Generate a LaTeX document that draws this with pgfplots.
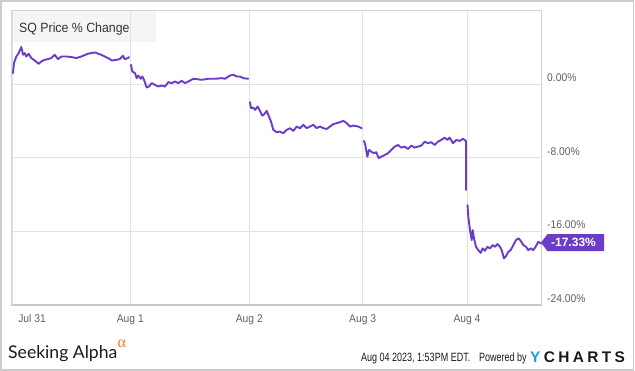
\documentclass[border=0pt]{standalone}
\usepackage{pgfplots}
\pgfplotsset{compat=1.18}
\usepackage{fontspec}
\setmainfont{Liberation Sans}[FakeStretch=0.92]
\newfontfamily\footfont{Liberation Sans}[FakeStretch=0.75]
\newfontfamily\tagfont{Liberation Sans}
\newfontfamily\safont{Lato}
\newfontfamily\alphafont{Liberation Serif}
\definecolor{sqline}{HTML}{6A3CC8}
\definecolor{gridc}{HTML}{E2E2E2}
\definecolor{framec}{HTML}{D4D4D4}
\definecolor{bottomc}{HTML}{C8C8C8}
\definecolor{tickc}{HTML}{606060}
\definecolor{titlebg}{HTML}{F5F5F5}
\definecolor{titlec}{HTML}{333333}
\definecolor{bordc}{HTML}{CCCCCC}
\definecolor{saorange}{HTML}{F57C1F}
\definecolor{ycblue}{HTML}{1E9BE0}
\definecolor{ycdark}{HTML}{1A1A1A}
\pgfplotsset{sq/.style={draw=sqline, line width=1.9bp, line join=round, line cap=round, mark=none}}
\begin{document}
\begin{tikzpicture}
\useasboundingbox (0,0) rectangle (635bp,371bp);
\draw[bordc, line width=1.5bp] (1bp,1bp) rectangle (633.5bp,370bp);
\fill[titlebg] (11bp,329bp) rectangle (156bp,360.5bp);
\node[anchor=base west, inner sep=0pt, text=titlec] at (19bp,338.7bp) {\fontsize{13.4bp}{15bp}\selectfont SQ Price \% Change};
\begin{axis}[
  at={(11bp,66bp)}, anchor=south west,
  scale only axis, width=530bp, height=294.5bp,
  xmin=11, xmax=541, ymin=-24, ymax=8,
  xtick={130.3,249.3,362.7,467},
  xticklabels={Aug 1,Aug 2,Aug 3,Aug 4},
  extra x ticks={32}, extra x tick labels={Jul 31},
  extra x tick style={grid=none},
  ytick={-24,-16,-8,0},
  yticklabels={-24.00\%,-16.00\%,-8.00\%,0.00\%},
  yticklabel pos=right,
  grid=major,
  major grid style={color=gridc, line width=0.8bp},
  major tick length=0pt,
  tick style={draw=none},
  axis line style={color=framec, line width=1bp},
  xticklabel style={anchor=base, inner sep=0pt, yshift=-17bp, font=\fontsize{11.2bp}{13bp}\selectfont, text=tickc},
  yticklabel style={anchor=base west, inner sep=0pt, xshift=6bp, yshift=2.6bp, font=\fontsize{11.2bp}{13bp}\selectfont, text=tickc},
  clip=false,
]
\draw[bottomc, line width=2bp] (rel axis cs:0,0) -- (rel axis cs:1,0);
\draw[gridc, line width=0.8bp] (axis cs:12.5,-24) -- (axis cs:12.5,8);
\addplot[sq] coordinates {(13,1.20) (14,2.29) (16.3,3.00) (18.7,3.37) (21.3,4.03) (23,3.19) (24.7,3.37) (26.3,3.00) (28.7,3.30) (31.3,2.83) (34.7,2.57) (38.7,2.21) (41.3,2.46) (44.7,2.64) (48,2.72) (51.3,2.83) (54.7,3.19) (58,2.72) (61.3,3.00) (66.3,3.00) (71.3,2.94) (76.3,2.83) (81.3,3.00) (88,3.30) (91.3,3.37) (95.3,3.44) (98,3.30) (101.3,3.19) (104.7,3.00) (108,2.83) (112,2.57) (116.3,2.64) (119.7,2.72) (123,3.08) (124.7,2.72) (128,2.83) (129,2.94)};
\addplot[sq] coordinates {(131,2.10) (132.3,1.37) (135,1.20) (136.7,0.65) (138.3,0.94) (140.7,0.58) (142.3,0.83) (144,0.47) (146.7,-0.37) (149,-0.26) (151.7,0.11) (155,-0.08) (158.3,-0.26) (161.7,-0.15) (165,-0.26) (168.3,0.22) (171.7,0.11) (175,0.28) (178.3,0.11) (181.7,0.36) (185,0.11) (188.3,0.28) (193.3,0.58) (196.7,0.54) (201.7,0.47) (208.3,0.58) (215,0.58) (221.7,0.65) (225,0.58) (230,0.94) (233.3,1.01) (236.7,0.83) (240,0.83) (243.3,0.65) (248.3,0.58)};
\addplot[sq] coordinates {(250,-1.96) (251,-2.61) (253.3,-2.55) (255,-2.80) (257.7,-2.44) (260,-2.91) (262.3,-3.42) (264.3,-3.27) (266.7,-2.91) (269,-3.53) (271,-4.07) (273.3,-4.97) (276.7,-5.22) (280,-5.16) (283.3,-5.33) (286.7,-4.97) (290,-4.79) (293.3,-5.08) (296.7,-4.61) (300,-4.79) (303.3,-4.43) (306.7,-4.79) (310,-4.61) (313.3,-4.43) (316.7,-4.79) (320,-4.61) (323.3,-4.79) (326.7,-4.87) (330,-4.61) (333.3,-4.35) (336.7,-4.24) (340,-4.14) (343.3,-3.99) (346.7,-4.24) (350,-4.61) (353.3,-4.51) (358.3,-4.61) (361.7,-4.79)};
\addplot[sq] coordinates {(364,-6.17) (365.3,-6.61) (367.3,-7.88) (369,-7.15) (371.3,-7.34) (374,-7.51) (376.3,-7.40) (378.7,-8.05) (381.3,-7.88) (384.7,-7.70) (388,-7.51) (391.3,-7.15) (394.7,-6.79) (398,-6.61) (401.3,-6.90) (404.7,-6.79) (408,-7.04) (411.3,-6.68) (414.7,-6.90) (418,-6.79) (421.3,-6.68) (424.7,-6.25) (428,-6.42) (431.3,-6.31) (434.7,-6.61) (438,-6.25) (441.3,-6.06) (444.7,-5.81) (447.3,-6.06) (449.7,-5.81) (453,-6.42) (456.3,-6.06) (459.7,-6.17) (463,-5.95) (464.7,-6.06) (466,-6.2) (466,-11.50)};
\addplot[sq] coordinates {(467.5,-13.14) (468.3,-14.41) (470,-15.86) (471.7,-16.95) (472.7,-15.86) (474,-16.76) (476,-17.68) (478.3,-18.04) (480.7,-18.33) (482.7,-17.85) (485,-18.11) (487.3,-17.68) (490,-17.85) (492.7,-17.49) (495,-17.68) (497.3,-17.38) (500,-17.68) (501.7,-18.04) (504,-18.94) (506,-18.69) (508.3,-18.22) (510.7,-18.04) (513.3,-17.49) (516,-16.95) (518.3,-16.76) (520.7,-17.02) (523.3,-17.49) (526,-17.68) (528.3,-18.04) (530.7,-17.85) (533.3,-18.04) (536,-17.60) (538.3,-17.13) (541,-17.33)};
\fill[sqline] (axis cs:541,-17.33) ++(0bp,1bp) -- ++(6.5bp,8.5bp) -- ++(56.5bp,0bp) -- ++(0bp,-17bp) -- ++(-56.5bp,0bp) -- cycle;
\node[anchor=base, inner sep=0pt, text=white, xshift=32.5bp, yshift=-3.2bp] at (axis cs:541,-17.33) {\tagfont\bfseries\fontsize{12bp}{14bp}\selectfont -17.33\%};
\end{axis}
\node[anchor=base west, inner sep=0pt, text=ycdark] at (8bp,12.7bp) {\safont\fontsize{17.6bp}{20bp}\selectfont Seeking Alpha};
\node[anchor=base west, inner sep=0pt, text=saorange] at (117.5bp,24bp) {\alphafont\fontsize{16bp}{18bp}\selectfont α};
\node[anchor=base west, inner sep=0pt, text=ycdark] at (361bp,9.3bp) {\footfont\fontsize{12bp}{14bp}\selectfont Aug 04 2023, 1:53PM EDT.};
\node[anchor=base west, inner sep=0pt, text=ycdark] at (479bp,9.3bp) {\footfont\fontsize{12bp}{14bp}\selectfont Powered by};
\node[anchor=base west, inner sep=0pt] at (530bp,8.3bp) {\tagfont\bfseries\fontsize{15.4bp}{17bp}\selectfont\textcolor{ycblue}{Y}\kern3.4bp\textcolor{ycdark}{C\kern3.4bp H\kern3.4bp A\kern3.4bp R\kern3.4bp T\kern3.4bp S}};
\end{tikzpicture}
\end{document}
